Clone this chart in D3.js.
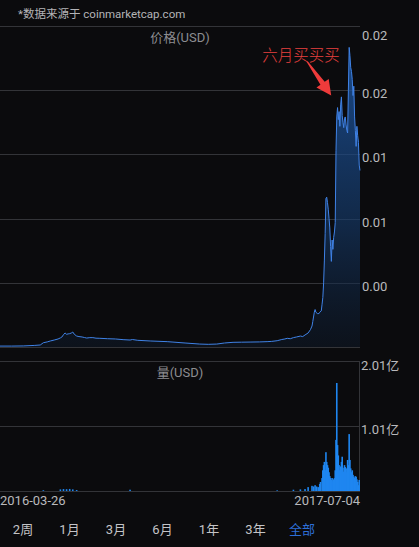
<!DOCTYPE html>
<html>
<head>
<meta charset="utf-8">
<script src="https://cdn.jsdelivr.net/npm/d3@7/dist/d3.min.js"></script>
<style>
  html, body { margin: 0; padding: 0; background: #0b0b0d; }
  svg { display: block; font-family: Roboto, "Noto Sans CJK SC", sans-serif; }
</style>
</head>
<body>
<svg id="chart" width="419" height="547"></svg>
<script>
// price (USD)
const priceDates = [
  '2016-03-26','2016-04-10','2016-04-25','2016-05-10','2016-05-17','2016-05-21','2016-05-26','2016-05-30',
  '2016-06-04','2016-06-09','2016-06-12','2016-06-14','2016-06-16','2016-06-18','2016-06-20','2016-06-22',
  '2016-06-24','2016-06-26','2016-06-28','2016-06-30','2016-07-03','2016-07-06','2016-07-10','2016-07-13',
  '2016-07-16','2016-07-20','2016-07-24','2016-07-28','2016-08-02','2016-08-12','2016-08-22','2016-09-01',
  '2016-09-10','2016-09-13','2016-09-20','2016-10-06','2016-10-28','2016-11-20','2016-12-09','2016-12-20',
  '2016-12-31','2017-01-10','2017-01-21','2017-02-01','2017-02-12','2017-02-24','2017-03-06','2017-03-12',
  '2017-03-19','2017-03-25','2017-03-29','2017-04-01','2017-04-05','2017-04-09','2017-04-13','2017-04-18',
  '2017-04-21','2017-04-24','2017-04-28','2017-05-01','2017-05-03','2017-05-04','2017-05-06','2017-05-07',
  '2017-05-08','2017-05-10','2017-05-12','2017-05-13','2017-05-15','2017-05-16','2017-05-17','2017-05-18',
  '2017-05-19','2017-05-20','2017-05-21','2017-05-22','2017-05-23','2017-05-24','2017-05-25','2017-05-26',
  '2017-05-27','2017-05-28','2017-05-29','2017-05-30','2017-05-31','2017-06-01','2017-06-02','2017-06-03',
  '2017-06-04','2017-06-05','2017-06-06','2017-06-07','2017-06-08','2017-06-09','2017-06-10','2017-06-11',
  '2017-06-12','2017-06-13','2017-06-14','2017-06-15','2017-06-16','2017-06-17','2017-06-18','2017-06-19',
  '2017-06-20','2017-06-21','2017-06-22','2017-06-23','2017-06-24','2017-06-25','2017-06-26','2017-06-27',
  '2017-06-28','2017-06-29','2017-06-30','2017-07-01','2017-07-02','2017-07-03','2017-07-04'
]
const priceValues = [
  0.00007,0.00007,0.00008,0.00012,0.00015,0.00032,0.00038,0.00045,
  0.00052,0.0006,0.00068,0.00075,0.00092,0.00105,0.00095,0.00098,
  0.001,0.00104,0.00112,0.00095,0.00082,0.00078,0.00075,0.00071,
  0.00067,0.0007,0.0007,0.00066,0.00065,0.00062,0.0006,0.00055,
  0.00052,0.00056,0.0005,0.00045,0.0004,0.0003,0.00022,0.0002,
  0.00022,0.0003,0.00035,0.00036,0.00037,0.00038,0.0004,0.00042,
  0.00047,0.00056,0.0006,0.00065,0.00062,0.0007,0.00075,0.00082,
  0.00078,0.0009,0.00105,0.0013,0.00157,0.0019,0.0026,0.0028,
  0.0026,0.0025,0.0025,0.0026,0.0027,0.0032,0.0037,0.0048,
  0.0065,0.0085,0.0111,0.0112,0.0108,0.0103,0.0096,0.0089,
  0.0075,0.0064,0.008,0.0073,0.0082,0.0086,0.0093,0.0147,
  0.0172,0.0179,0.017,0.0176,0.0165,0.0181,0.0187,0.0173,
  0.0168,0.0164,0.0171,0.0172,0.0166,0.0162,0.016,0.0192,
  0.0224,0.0218,0.0209,0.0206,0.02,0.0188,0.0195,0.0172,
  0.0162,0.015,0.0165,0.0158,0.0153,0.0136,0.0132
]

// volume (USD)
const volumeDates = [
  '2016-05-21','2016-06-12','2016-06-16','2016-06-20','2016-06-24','2016-06-28','2016-07-03','2016-09-10',
  '2017-03-19','2017-04-09','2017-04-18','2017-04-24','2017-04-28','2017-05-03','2017-05-05','2017-05-07',
  '2017-05-09','2017-05-11','2017-05-13','2017-05-14','2017-05-16','2017-05-17','2017-05-18','2017-05-19',
  '2017-05-20','2017-05-21','2017-05-22','2017-05-23','2017-05-24','2017-05-25','2017-05-26','2017-05-27',
  '2017-05-28','2017-05-29','2017-05-30','2017-05-31','2017-06-01','2017-06-02','2017-06-03','2017-06-04',
  '2017-06-05','2017-06-06','2017-06-07','2017-06-08','2017-06-09','2017-06-10','2017-06-11','2017-06-12',
  '2017-06-13','2017-06-14','2017-06-15','2017-06-16','2017-06-17','2017-06-18','2017-06-19','2017-06-20',
  '2017-06-21','2017-06-22','2017-06-23','2017-06-24','2017-06-25','2017-06-26','2017-06-27','2017-06-28',
  '2017-06-29','2017-06-30','2017-07-01','2017-07-02','2017-07-03','2017-07-04'
]
const volumeValues = [
  1.2e6,2.5e6,3e6,2.8e6,3.2e6,2.5e6,1.5e6,2e6,
  1e6,2e6,2.5e6,3e6,6e6,8e6,7e6,9e6,
  7e6,6e6,11e6,14e6,20e6,32e6,40e6,45e6,
  32e6,60e6,45e6,40e6,36e6,29e6,23e6,20e6,
  17e6,20e6,15e6,18e6,20e6,32e6,79e6,167e6,
  71e6,55e6,40e6,32e6,38e6,45e6,53e6,36e6,
  30e6,40e6,37e6,29e6,35e6,48e6,40e6,88e6,
  48e6,35e6,29e6,32e6,25e6,22e6,20e6,23e6,
  22e6,18e6,14e6,9e6,17e6,8e6
]

const priceTicks = [0.0048, 0.0096, 0.0144, 0.0192, 0.024]
const volumeTicks = [1.005e8, 2.01e8]
const rangeTabs = ['2周', '1月', '3月', '6月', '1年', '3年', '全部']
const activeTab = '全部'
const note = { text: '六月买买买', date: '2017-06-02', value: 0.0188 }

const parse = d3.timeParse('%Y-%m-%d')
const prices = priceDates.map((d, i) => ({ date: parse(d), value: priceValues[i] }))
const volumes = volumeDates.map((d, i) => ({ date: parse(d), value: volumeValues[i] }))

const svg = d3.select('#chart')
const W = 360
const priceTop = 26, priceBottom = 347
const volTop = 361, volBottom = 491
const gridColor = '#333438'
const labelColor = '#b9b9bc'

const x = d3.scaleTime()
  .domain(d3.extent(prices, d => d.date))
  .range([0, W])

const y = d3.scaleLinear()
  .domain([0, d3.max(priceTicks)])
  .range([priceBottom, priceTop])

const yVol = d3.scaleLinear()
  .domain([0, d3.max(volumeTicks)])
  .range([volBottom, volTop])

// source note
svg.append('text')
  .attr('x', 18).attr('y', 18)
  .attr('fill', '#b4b4b7')
  .attr('font-size', 11.5)
  .text('*数据来源于 coinmarketcap.com')

// price grid
svg.append('g')
  .selectAll('line')
  .data([0, ...priceTicks])
  .join('line')
  .attr('x1', 0).attr('x2', W)
  .attr('y1', d => Math.round(y(d)) + 0.5)
  .attr('y2', d => Math.round(y(d)) + 0.5)
  .attr('stroke', gridColor)

svg.append('text')
  .attr('x', 180).attr('y', 42)
  .attr('text-anchor', 'middle')
  .attr('fill', '#8d8d91')
  .attr('font-size', 13)
  .text('价格(USD)')

// area + line
const defs = svg.append('defs')
const grad = defs.append('linearGradient')
  .attr('id', 'priceFill')
  .attr('gradientUnits', 'userSpaceOnUse')
  .attr('x1', 0).attr('x2', 0)
  .attr('y1', priceTop).attr('y2', priceBottom)
grad.append('stop').attr('offset', 0).attr('stop-color', '#1f5cae').attr('stop-opacity', 0.85)
grad.append('stop').attr('offset', 0.6).attr('stop-color', '#163e72').attr('stop-opacity', 0.6)
grad.append('stop').attr('offset', 1).attr('stop-color', '#0e1c30').attr('stop-opacity', 0.4)

svg.append('path')
  .datum(prices)
  .attr('fill', 'url(#priceFill)')
  .attr('d', d3.area()
    .x(d => x(d.date))
    .y0(priceBottom)
    .y1(d => y(d.value)))

svg.append('path')
  .datum(prices)
  .attr('fill', 'none')
  .attr('stroke', '#3f82e6')
  .attr('stroke-width', 1)
  .attr('stroke-linejoin', 'round')
  .attr('d', d3.line()
    .x(d => x(d.date))
    .y(d => y(d.value)))

// price labels
svg.append('g')
  .selectAll('text')
  .data(priceTicks)
  .join('text')
  .attr('x', W + 2)
  .attr('y', d => y(d) + (d === d3.max(priceTicks) ? 14 : 8))
  .attr('fill', labelColor)
  .attr('font-size', 13)
  .text(d => d3.format('.2f')(d))

// volume grid
svg.append('g')
  .selectAll('line')
  .data([0, ...volumeTicks])
  .join('line')
  .attr('x1', 0).attr('x2', W)
  .attr('y1', d => Math.round(yVol(d)) + 0.5)
  .attr('y2', d => Math.round(yVol(d)) + 0.5)
  .attr('stroke', gridColor)

svg.append('line')
  .attr('x1', W - 0.5).attr('x2', W - 0.5)
  .attr('y1', volTop).attr('y2', volBottom)
  .attr('stroke', gridColor)

svg.append('text')
  .attr('x', 180).attr('y', 377)
  .attr('text-anchor', 'middle')
  .attr('fill', '#8d8d91')
  .attr('font-size', 13)
  .text('量(USD)')

// volume bars
svg.append('g')
  .selectAll('rect')
  .data(volumes)
  .join('rect')
  .attr('x', d => x(d.date) - 0.8)
  .attr('width', d => Math.min(1.6, W - (x(d.date) - 0.8)))
  .attr('y', d => yVol(d.value))
  .attr('height', d => volBottom - yVol(d.value))
  .attr('fill', '#1f86f0')

svg.append('g')
  .selectAll('text')
  .data(volumeTicks)
  .join('text')
  .attr('x', W + 1)
  .attr('y', d => yVol(d) + (d === d3.max(volumeTicks) ? 9 : 8))
  .attr('fill', labelColor)
  .attr('font-size', 13)
  .text(d => (Math.round(d / 1e6) / 100).toFixed(2) + '亿')

// date labels
const [d0, d1] = x.domain()
const fmt = d3.timeFormat('%Y-%m-%d')
svg.append('text')
  .attr('x', 0).attr('y', 505)
  .attr('fill', labelColor).attr('font-size', 13)
  .text(fmt(d0))
svg.append('text')
  .attr('x', W).attr('y', 505)
  .attr('text-anchor', 'end')
  .attr('fill', labelColor).attr('font-size', 13)
  .text(fmt(d1))

// range tabs
const tabX = d3.scalePoint().domain(rangeTabs).range([23, 302])
svg.append('g')
  .selectAll('text')
  .data(rangeTabs)
  .join('text')
  .attr('x', d => tabX(d))
  .attr('y', 534)
  .attr('text-anchor', 'middle')
  .attr('font-size', 13)
  .attr('fill', d => d === activeTab ? '#2d6fd8' : '#c4c4c7')
  .text(d => d)

// annotation
const tip = [x(parse(note.date)) - 4, y(note.value)]
const start = [tip[0] - 24, tip[1] - 34]
const dx = tip[0] - start[0], dy = tip[1] - start[1]
const len = Math.hypot(dx, dy)
const ux = dx / len, uy = dy / len, nx = -uy, ny = ux
const headLen = 15, headHalf = 7.5, shaftStart = 0.6, shaftEnd = 2.6
const bx = tip[0] - ux * headLen, by = tip[1] - uy * headLen
const arrowPts = [
  [start[0] + nx * shaftStart, start[1] + ny * shaftStart],
  [bx + nx * shaftEnd, by + ny * shaftEnd],
  [bx + nx * headHalf, by + ny * headHalf],
  tip,
  [bx - nx * headHalf, by - ny * headHalf],
  [bx - nx * shaftEnd, by - ny * shaftEnd],
  [start[0] - nx * shaftStart, start[1] - ny * shaftStart]
]
svg.append('path')
  .attr('d', d3.line()(arrowPts) + 'Z')
  .attr('fill', '#ee3b3b')

svg.append('text')
  .attr('x', tip[0] - 69).attr('y', tip[1] - 35)
  .attr('fill', '#e8413f')
  .attr('font-size', 15.5)
  .attr('font-family', '"Noto Sans CJK SC", sans-serif')
  .attr('font-weight', 300)
  .text(note.text)
</script>
</body>
</html>
